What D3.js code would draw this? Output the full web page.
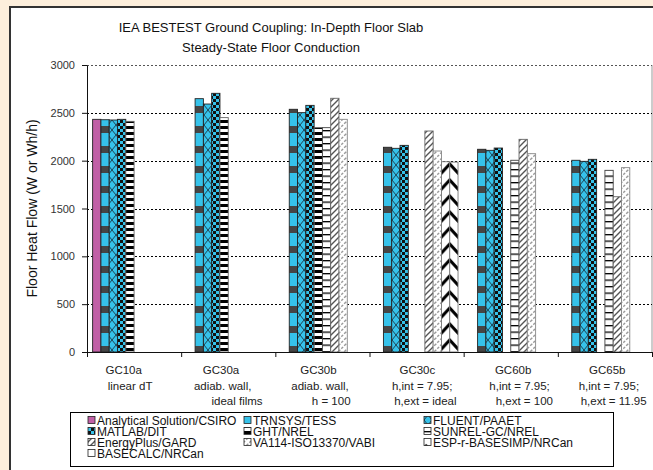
<!DOCTYPE html>
<html>
<head>
<meta charset="utf-8">
<script src="https://cdn.jsdelivr.net/npm/d3@7"></script>
<style>
  body { margin: 0; background: #fdefdc; }
  text { font-family: "Liberation Sans", Arial, sans-serif; }
</style>
</head>
<body>
<div class="canvas"></div>
<script>
// categories (test cases) and their multi-line labels (spacing as in the original labels)
const categories = ['GC10a', 'GC30a', 'GC30b', 'GC30c', 'GC60b', 'GC65b'];
const categoryLabels = [
	['GC10a    ', 'linear dT'],
	['GC30a  ', 'adiab. wall, ', '        ideal films'],
	['GC30b', ' adiab. wall,', '        h = 100'],
	['   GC30c', '      h,int = 7.95;', '        h,ext = ideal'],
	['    GC60b', '        h,int = 7.95;', '           h,ext = 100'],
	['    GC65b', '     h,int = 7.95;', '        h,ext = 11.95']
];

// series (one value per category, null = no result)
const analytical = [2432, null, null, null, null, null];
const trnsys     = [2428, 2648, 2537, 2140, 2119, 2004];
const fluent     = [2425, 2592, 2502, 2129, 2108, 1993];
const matlab     = [2432, 2704, 2578, 2160, 2132, 2014];
const ght        = [2411, 2450, 2345, null, null, null];
const sunrel     = [null, null, 2345, null, 2004, 1899];
const energyplus = [null, null, 2652, 2310, 2223, 1623];
const va114      = [null, null, 2432, 2101, 2073, 1927];
const espr       = [null, null, null, 1989, null, null];
const basecalc   = [null, null, null, 1985, null, null];

const seriesNames = [
	'Analytical Solution/CSIRO', 'TRNSYS/TESS', 'FLUENT/PAAET',
	'MATLAB/DIT', 'GHT/NREL', 'SUNREL-GC/NREL',
	'EnergyPlus/GARD', 'VA114-ISO13370/VABI', 'ESP-r-BASESIMP/NRCan',
	'BASECALC/NRCan'
];
const seriesValues = [analytical, trnsys, fluent, matlab, ght, sunrel, energyplus, va114, espr, basecalc];
const yTicks = [0, 500, 1000, 1500, 2000, 2500, 3000];

const width = 653, height = 470;
const cyan = '#36c2ea';

const svg = d3.select('.canvas')
	.append('svg')
	.attr('width', width)
	.attr('height', height);

// plot area
const plot = { left: 87, right: 652, top: 65, bottom: 352 };

const y = d3.scaleLinear()
	.domain([0, 3000])
	.range([plot.bottom, plot.top]);

const x0 = d3.scaleBand()
	.domain(categories)
	.range([plot.left, plot.right]);

const x1 = d3.scaleBand()
	.domain(d3.range(seriesNames.length))
	.range([0, x0.bandwidth()])
	.paddingOuter(0.68);

// patterns, anchored to the chart like the original
const defs = svg.append('defs');
const pat = (id, w, h) => defs.append('pattern')
	.attr('id', id)
	.attr('patternUnits', 'userSpaceOnUse')
	.attr('width', w)
	.attr('height', h);

let p = pat('p-trnsys', 8, 20);
p.append('rect').attr('width', 8).attr('height', 20).attr('fill', cyan);
p.append('rect').attr('y', 6).attr('width', 8).attr('height', 7).attr('fill', '#454545');

p = pat('p-fluent', 8, 10);
p.append('rect').attr('width', 8).attr('height', 10).attr('fill', cyan);
p.append('path').attr('d', 'M0,0L8,10M8,0L0,10').attr('stroke', '#1d4656').attr('stroke-width', 1);

p = pat('p-matlab', 6, 6);
p.append('rect').attr('width', 6).attr('height', 6).attr('fill', cyan);
p.append('rect').attr('width', 3).attr('height', 3).attr('fill', '#111');
p.append('rect').attr('x', 3).attr('y', 3).attr('width', 3).attr('height', 3).attr('fill', '#111');

p = pat('p-ght', 6, 6);
p.append('rect').attr('width', 6).attr('height', 6).attr('fill', '#fff');
p.append('rect').attr('width', 6).attr('height', 3).attr('fill', '#000');

p = pat('p-sunrel', 6, 6.5);
p.append('rect').attr('width', 6).attr('height', 6.5).attr('fill', '#fff');
p.append('rect').attr('width', 6).attr('height', 1.3).attr('fill', '#000');

p = pat('p-eplus', 6, 6);
p.append('rect').attr('width', 6).attr('height', 6).attr('fill', '#fff');
p.append('path').attr('d', 'M-1,7L7,-1M-4,4L4,-4M2,10L10,2').attr('stroke', '#555').attr('stroke-width', 1.4);

p = pat('p-va114', 6, 6);
p.append('rect').attr('width', 6).attr('height', 6).attr('fill', '#fff');
p.append('path').attr('d', 'M-1,7L7,-1M-4,4L4,-4M2,10L10,2').attr('stroke', '#999').attr('stroke-width', 1.4)
	.attr('stroke-dasharray', '3,1.5');

// zigzag: one chevron is two bars wide, apex on the ESP-r / BASECALC boundary
const bw = x1.bandwidth();
p = pat('p-zigzag', bw * 2, 16)
	.attr('x', x0('GC30c') + x1(8));
p.append('rect').attr('width', bw * 2).attr('height', 16).attr('fill', '#fff');
p.append('path').attr('d', `M${-bw},4L0,13L${bw},4L${bw * 2},13L${bw * 3},4`)
	.attr('fill', 'none').attr('stroke', '#000').attr('stroke-width', 3.2);

// legend swatches; in the plot the last two results share the zigzag fill
const fills = [
	'#c160a6', 'url(#p-trnsys)', 'url(#p-fluent)', 'url(#p-matlab)', 'url(#p-ght)',
	'url(#p-sunrel)', 'url(#p-eplus)', 'url(#p-va114)', 'url(#p-zigzag)', '#fff'
];
const barFills = fills.slice(0, 9).concat(['url(#p-zigzag)']);
const strokes = ['#222', '#222', '#222', '#222', '#666', '#444', '#666', '#888', '#777', '#777'];

// white chart panel
svg.append('rect')
	.attr('x', 10).attr('y', 7)
	.attr('width', 700).attr('height', 500)
	.attr('fill', '#fff')
	.attr('stroke', '#333')
	.attr('stroke-width', 2);

const graph = svg.append('g');

// right border of plot area
graph.append('line')
	.attr('x1', plot.right).attr('x2', plot.right)
	.attr('y1', plot.top).attr('y2', plot.bottom)
	.attr('stroke', '#bbb').attr('stroke-width', 1.5);

// dotted gridlines
graph.selectAll('.grid')
	.data(yTicks.filter(d => d > 0))
	.enter().append('line')
	.attr('x1', plot.left).attr('x2', plot.right)
	.attr('y1', d => Math.round(y(d)) + 0.5).attr('y2', d => Math.round(y(d)) + 0.5)
	.attr('stroke', d => d === 3000 ? '#555' : '#000')
	.attr('stroke-dasharray', '2,2');

// bars
const rows = [];
seriesValues.forEach((vals, s) => {
	vals.forEach((v, c) => {
		if (v != null) rows.push({ s, c: categories[c], v });
	});
});

graph.selectAll('rect.bar')
	.data(rows)
	.enter().append('rect')
	.attr('class', 'bar')
	.attr('x', d => x0(d.c) + x1(d.s))
	.attr('width', bw)
	.attr('y', d => y(d.v))
	.attr('height', d => y(0) - y(d.v))
	.attr('fill', d => barFills[d.s])
	.attr('stroke', d => strokes[d.s])
	.attr('stroke-width', 0.9);

// axes
const yAxis = d3.axisLeft(y).tickValues(yTicks).tickFormat(d3.format('d'))
	.tickSize(5).tickSizeOuter(0).tickPadding(7);
const yAxisGroup = svg.append('g')
	.attr('transform', `translate(${plot.left}, 0)`)
	.call(yAxis);
yAxisGroup.selectAll('text').attr('font-size', 11).attr('fill', '#333');
yAxisGroup.selectAll('line, path').attr('stroke', '#111');

const xIdx = d3.scaleLinear().domain([0, categories.length]).range([plot.left, plot.right]);
const xAxis = d3.axisBottom(xIdx).ticks(categories.length).tickSize(5).tickSizeOuter(0).tickFormat('');
const xAxisGroup = svg.append('g')
	.attr('transform', `translate(0, ${plot.bottom})`)
	.call(xAxis);
xAxisGroup.selectAll('line, path').attr('stroke', '#111');

// category labels
const catLabel = svg.append('g')
	.selectAll('text')
	.data(categoryLabels)
	.enter().append('text')
	.attr('x', (d, i) => x0(categories[i]) + x0.bandwidth() / 2 - 4)
	.attr('y', 374)
	.attr('font-size', 11.5)
	.attr('fill', '#222')
	.attr('text-anchor', 'middle')
	.attr('xml:space', 'preserve')
	.style('white-space', 'pre');
catLabel.selectAll('tspan')
	.data(d => d)
	.enter().append('tspan')
	.attr('x', function () { return d3.select(this.parentNode).attr('x'); })
	.attr('dy', (d, i) => i === 0 ? 0 : 15.5)
	.text(d => d);

// titles
svg.append('text')
	.attr('x', 271).attr('y', 32)
	.attr('text-anchor', 'middle')
	.attr('font-size', 13)
	.attr('fill', '#111')
	.text('IEA BESTEST Ground Coupling: In-Depth Floor Slab');
svg.append('text')
	.attr('x', 271).attr('y', 52)
	.attr('text-anchor', 'middle')
	.attr('font-size', 13)
	.attr('fill', '#111')
	.text('Steady-State Floor Conduction');

svg.append('text')
	.attr('transform', `translate(37, ${(plot.top + plot.bottom) / 2}) rotate(-90)`)
	.attr('text-anchor', 'middle')
	.attr('font-size', 14)
	.attr('fill', '#111')
	.text('Floor Heat Flow (W or Wh/h)');

// legend
const legend = svg.append('g');
legend.append('rect')
	.attr('x', 70.5).attr('y', 412.5)
	.attr('width', 543).attr('height', 54)
	.attr('fill', '#fff')
	.attr('stroke', '#000');

const legendCols = [88, 244, 424];
const items = legend.selectAll('g.item')
	.data(seriesNames)
	.enter().append('g')
	.attr('transform', (d, i) => `translate(${legendCols[i % 3]}, ${420 + Math.floor(i / 3) * 11})`);
items.append('rect')
	.attr('x', 0).attr('y', -3.5)
	.attr('width', 7).attr('height', 7)
	.attr('fill', (d, i) => fills[i])
	.attr('stroke', '#222')
	.attr('stroke-width', 0.8);
items.append('text')
	.attr('x', 9).attr('y', 4.5)
	.attr('font-size', 12)
	.attr('fill', '#111')
	.text(d => d);
</script>
</body>
</html>
